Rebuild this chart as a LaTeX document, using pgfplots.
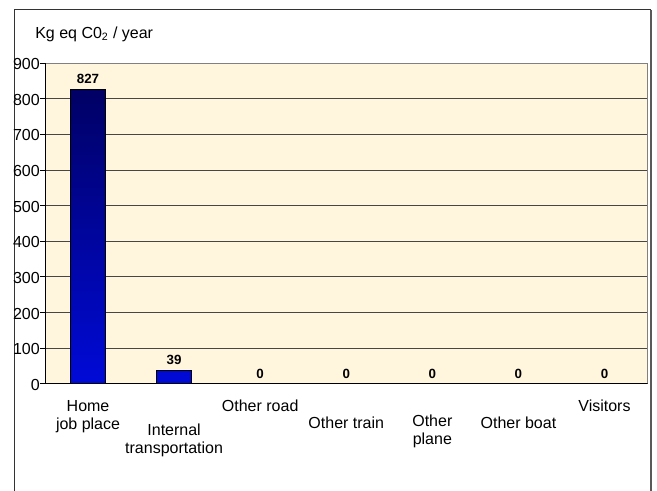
\documentclass[border=0pt]{standalone}
\usepackage{fontspec}
\setmainfont{Liberation Sans}
\usepackage{pgfplots}
\pgfplotsset{compat=1.18}

\definecolor{cream}{RGB}{255,246,221}
\definecolor{gridgray}{RGB}{70,70,70}
\definecolor{bordergray}{RGB}{128,128,128}
\definecolor{barnavy}{RGB}{0,0,100}
\definecolor{barblue}{RGB}{0,10,215}

\begin{document}
\begin{tikzpicture}
\useasboundingbox (0,0) rectangle (492.75pt,368.25pt);
% frame of the chart
\draw[line width=0.75pt, black!80] (10.5pt,0) -- (10.5pt,360.75pt) -- (488.25pt,360.75pt);
\draw[line width=1.1pt, black!65] (488.25pt,360.75pt) -- (488.25pt,0);
% unit label
\node[anchor=base west, inner sep=0pt, font=\fontsize{12}{14}\selectfont]
  at (26.25pt,339.4pt) {Kg eq C0\textsubscript{2} / year};

\begin{axis}[
  at={(33.75pt,80.25pt)}, anchor=south west,
  scale only axis,
  width=451.9pt, height=240.75pt,
  /pgf/number format/assume math mode=true,
  axis background/.style={fill=cream},
  axis line style={draw=bordergray, line width=0.75pt},
  xmin=-0.5, xmax=6.5,
  ymin=0, ymax=900,
  ytick={0,100,...,900},
  ymajorgrids,
  major grid style={gridgray, line width=0.75pt},
  tick pos=left,
  tick align=outside,
  major tick length=3.75pt,
  minor tick length=3pt,
  xtick={0,...,6},
  xtick style={draw=none},
  minor xtick={-0.5,0.5,...,6.5},
  minor x tick style={black, line width=0.75pt},
  ytick style={black, line width=0.75pt},
  yticklabel style={font=\fontsize{12}{14}\selectfont, inner sep=0pt, anchor=east, yshift=-0.8pt},
  xticklabel style={font=\fontsize{12}{13.5}\selectfont, inner sep=0pt, anchor=north, align=center},
  xticklabels={
    {\rule{0pt}{16.5pt}Home\\job place},
    {\rule{0pt}{34.5pt}Internal\\transportation},
    {\rule{0pt}{16.5pt}Other road},
    {\rule{0pt}{29.25pt}Other train},
    {\rule{0pt}{27.75pt}Other\\plane},
    {\rule{0pt}{29.25pt}Other boat},
    {\rule{0pt}{16.5pt}Visitors}},
  ybar,
  bar width=26.25pt,
  nodes near coords,
  every node near coord/.append style={
    font=\bfseries\fontsize{10}{11}\selectfont,
    anchor=center, yshift=7.5pt, fill=cream, inner sep=1.5pt},
]
\addplot[draw=black, line width=0.5pt, top color=barnavy, bottom color=barblue]
  coordinates {(0,827) (1,39) (2,0) (3,0) (4,0) (5,0) (6,0)};
% darker left and bottom axis lines
\draw[black, line width=0.75pt] (rel axis cs:0,1) -- (rel axis cs:0,0) -- (rel axis cs:1,0);
\end{axis}
\end{tikzpicture}
\end{document}
